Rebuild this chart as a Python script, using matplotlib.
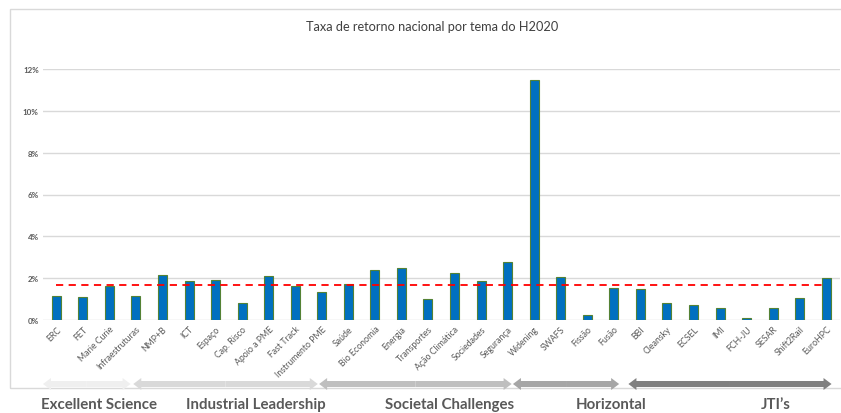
import numpy as np
import matplotlib.pyplot as plt
from matplotlib.patches import Rectangle, FancyArrow
import matplotlib.transforms as mtransforms

plt.rcParams['font.family'] = ['Lato', 'DejaVu Sans']

# temas do H2020 e taxa de retorno nacional (%)
temas = ['ERC', 'FET', 'Marie Curie', 'Infraestruturas', 'NMP+B', 'ICT', 'Espaço',
         'Cap. Risco', 'Apoio a PME', 'Fast Track', 'Instrumento PME', 'Saúde',
         'Bio Economia', 'Energia', 'Transportes', 'Ação Climática', 'Sociedades',
         'Segurança', 'Widening', 'SWAFS', 'Fissão', 'Fusão', 'BBI', 'Cleansky',
         'ECSEL', 'IMI', 'FCH-JU', 'SESAR', 'Shift2Rail', 'EuroHPC']
taxa = [1.13, 1.08, 1.64, 1.13, 2.15, 1.85, 1.93, 0.81, 2.12, 1.63, 1.34, 1.71,
        2.39, 2.49, 1.00, 2.25, 1.85, 2.77, 11.47, 2.06, 0.25, 1.55, 1.47, 0.80,
        0.70, 0.56, 0.08, 0.56, 1.07, 2.01]
media = 1.67

# pilares do programa
pilares = ['Excellent Science', 'Industrial Leadership', 'Societal Challenges',
           'Horizontal', "JTI’s"]
cores_pilar = ['#EFEFEF', '#D9D9D9', '#BFBFBF', '#A6A6A6', '#808080']
# extensao das setas e posicao dos rotulos (em unidades do eixo x)
setas = [(-0.5, 2.8), (2.9, 9.85), (9.9, 17.15), (17.2, 21.2), (21.55, 29.2)]
pos_rotulo = [1.6, 7.5, 14.8, 20.9, 27.1]

W, H = 841, 414
fig = plt.figure(figsize=(W / 100, H / 100), dpi=100)
ax = fig.add_axes([43 / W, 1 - 321 / H, 796.5 / W, 251 / H])

x = np.arange(len(temas))
ax.bar(x, taxa, width=0.34, color='#0070C0', edgecolor='#548235', linewidth=0.8, zorder=3)
ax.plot([0, len(temas) - 1], [media, media], color='#FF0000', ls=(0, (4, 3)), lw=1.3, zorder=4)

ax.set_xlim(-0.5, len(temas) - 0.5)
ax.set_ylim(0, 12)
ax.set_yticks(np.arange(0, 13, 2))
ax.set_yticklabels(['%d%%' % v for v in range(0, 13, 2)], fontsize=5.8,
                   fontweight='bold', color='#595959')
ax.grid(axis='y', color='#D9D9D9', lw=1, zorder=0)
ax.set_axisbelow(True)
for s in ax.spines.values():
    s.set_visible(False)
ax.tick_params(axis='both', length=0, pad=3)
ax.set_xticks(x)
ax.set_xticklabels(temas, rotation=45, ha='right', rotation_mode='anchor',
                   fontsize=6.3, color='#595959')

fig.text(432 / W, 1 - 27 / H, 'Taxa de retorno nacional por tema do H2020',
         ha='center', va='center', fontsize=9.2, color='#404040')

# moldura do grafico
fig.add_artist(Rectangle((10 / W, 1 - 389 / H), 0.995, 379 / H, transform=fig.transFigure,
                         fill=False, edgecolor='#D9D9D9', lw=1))

# setas dos pilares
trans = mtransforms.blended_transform_factory(ax.transData, fig.transFigure)
y_seta = 1 - 385 / H
for (a, b), cor in zip(setas, cores_pilar):
    xa = ax.transData.transform((a, 0))[0]
    xb = ax.transData.transform((b, 0))[0]
    yp = fig.transFigure.transform((0, y_seta))[1]
    mid = (xa + xb) / 2
    for x0, x1 in [(mid, xa), (mid, xb)]:
        fig.add_artist(FancyArrow(x0, yp, x1 - x0, 0, width=6, head_width=12,
                                  head_length=8, length_includes_head=True,
                                  color=cor, lw=0, transform=None))

for nome, px in zip(pilares, pos_rotulo):
    fig.text(px, 1 - 405 / H, nome, transform=trans, ha='center', va='center',
             fontsize=10.8, fontweight='bold', color='#595959')

fig.savefig('out.png', dpi=100)
